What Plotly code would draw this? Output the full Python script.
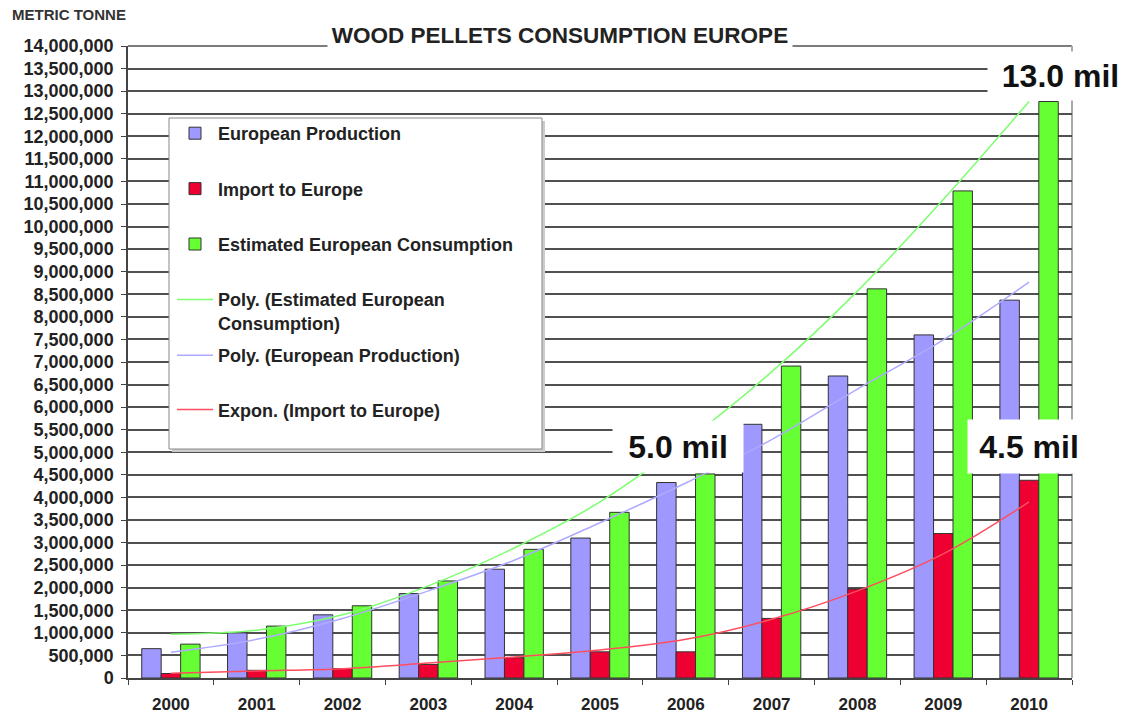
import plotly.graph_objects as go

years = ["2000", "2001", "2002", "2003", "2004", "2005", "2006", "2007", "2008", "2009", "2010"]
production = [650000, 1000000, 1400000, 1870000, 2410000, 3100000, 4330000, 5620000, 6690000, 7600000, 8370000]
imports = [100000, 170000, 210000, 300000, 450000, 580000, 580000, 1320000, 1970000, 3200000, 4380000]
consumption = [750000, 1150000, 1600000, 2150000, 2850000, 3670000, 4520000, 6910000, 8620000, 10790000, 12770000]
trend_consumption = [968000, 1060000, 1400000, 2040000, 2880000, 3900000, 5240000, 6780000, 8570000, 10600000, 12770000]
trend_production = [569000, 857000, 1320000, 1930000, 2610000, 3440000, 4320000, 5280000, 6400000, 7490000, 8770000]
trend_import = [104000, 155000, 207000, 330000, 465000, 620000, 857000, 1300000, 1930000, 2750000, 3900000]

FONT = "Liberation Sans, Arial, sans-serif"
W, H = 1132, 717
L, R, T, B = 128, 60, 46, 39
PW, PH = W - L - R, H - T - B
GRID = "#505050"


def px(x):
    return (x - L) / PW


def py(y):
    return (H - B - y) / PH


fig = go.Figure()
bar_line = dict(color="#333333", width=1)
fig.add_trace(go.Bar(x=years, y=production, name="European Production",
                     marker=dict(color="#9F99FF", line=bar_line),
                     legend="legend", legendgroup="a"))
fig.add_trace(go.Bar(x=years, y=imports, name="Import to Europe",
                     marker=dict(color="#EE0033", line=bar_line),
                     legend="legend", legendgroup="b"))
fig.add_trace(go.Bar(x=years, y=consumption, name="Estimated European Consumption",
                     marker=dict(color="#66FF33", line=bar_line),
                     legend="legend", legendgroup="c"))
fig.add_trace(go.Scatter(x=years, y=trend_consumption, mode="lines",
                         name="Poly. (Estimated European<br>Consumption)",
                         line=dict(color="#7CFF6E", width=1.5, shape="spline"),
                         legend="legend", legendgroup="d"))
fig.add_trace(go.Scatter(x=years, y=trend_production, mode="lines",
                         name="Poly. (European Production)",
                         line=dict(color="#AEAAFF", width=1.5, shape="spline"),
                         legend="legend2", legendgroup="e"))
fig.add_trace(go.Scatter(x=years, y=trend_import, mode="lines",
                         name="Expon. (Import to Europe)",
                         line=dict(color="#FF4D5E", width=1.5, shape="spline"),
                         legend="legend2", legendgroup="f"))

leg_font = dict(family=FONT, size=18, weight="bold", color="#222222")

shapes = [
    dict(type="line", xref="paper", yref="paper", x0=0, x1=1, y0=1, y1=1,
         line=dict(color=GRID, width=1.5), layer="below"),
    dict(type="line", xref="paper", yref="paper", x0=1, x1=1, y0=0, y1=1,
         line=dict(color="#AAAAAA", width=2), layer="below"),
    dict(type="rect", xref="paper", yref="paper",
         x0=px(172), x1=px(545), y0=py(452), y1=py(121),
         fillcolor="#CCCCCC", line=dict(width=0), layer="above"),
    dict(type="rect", xref="paper", yref="paper",
         x0=px(169), x1=px(542), y0=py(449), y1=py(118),
         fillcolor="white", line=dict(color="#888888", width=1), layer="above"),
]

annotations = [
    dict(text="<b>METRIC TONNE</b>", xref="paper", yref="paper", x=px(10), y=py(15),
         xanchor="left", yanchor="middle", showarrow=False,
         font=dict(family=FONT, size=15, color="#333333")),
    dict(text="<b>WOOD PELLETS CONSUMPTION EUROPE</b>", xref="paper", yref="paper",
         x=px(559.5), y=py(35), xanchor="center", yanchor="middle", showarrow=False,
         bgcolor="white", borderpad=0, width=464, height=28,
         font=dict(family=FONT, size=22.5, color="#222222")),
    dict(text="<b>13.0 mil</b>", xref="paper", yref="paper",
         x=px(1060), y=py(76), xanchor="center", yanchor="middle", showarrow=False,
         bgcolor="white", borderpad=0, width=145, height=48,
         font=dict(family=FONT, size=32, color="#111111")),
    dict(text="<b>5.0 mil</b>", xref="paper", yref="paper",
         x=px(678), y=py(446.5), xanchor="center", yanchor="middle", showarrow=False,
         bgcolor="white", borderpad=0, width=130, height=51,
         font=dict(family=FONT, size=32, color="#111111")),
    dict(text="<b>4.5 mil</b>", xref="paper", yref="paper",
         x=px(1029), y=py(446.5), xanchor="center", yanchor="middle", showarrow=False,
         bgcolor="white", borderpad=0, width=122, height=53,
         font=dict(family=FONT, size=32, color="#111111")),
]

fig.update_layout(
    width=W, height=H,
    margin=dict(l=L, r=R, t=T, b=B, pad=0, autoexpand=False),
    paper_bgcolor="white", plot_bgcolor="white",
    barmode="group", bargap=0.32, bargroupgap=0,
    font=dict(family=FONT, color="#222222"),
    showlegend=True,
    legend=dict(x=px(172), y=py(115), xanchor="left", yanchor="top",
                bgcolor="rgba(0,0,0,0)", borderwidth=0, font=leg_font,
                tracegroupgap=29, traceorder="grouped", valign="top",
                itemwidth=36),
    legend2=dict(x=px(172), y=py(337), xanchor="left", yanchor="top",
                 bgcolor="rgba(0,0,0,0)", borderwidth=0, font=leg_font,
                 tracegroupgap=28, traceorder="grouped", valign="top",
                 itemwidth=36),
    xaxis=dict(type="category", showgrid=False, showline=True, linecolor="#444444",
               linewidth=1.5, ticks="outside", tickson="boundaries", ticklen=5,
               tickcolor="#444444", ticklabelstandoff=10, automargin=False,
               tickfont=dict(family=FONT, size=17, weight="bold", color="#222222")),
    yaxis=dict(range=[0, 14000000], tick0=0, dtick=500000, tickformat=",",
               showgrid=True, gridcolor=GRID, gridwidth=1.5, zeroline=False,
               showline=True, linecolor="#444444", linewidth=1.5, automargin=False,
               ticks="outside", ticklen=5, tickcolor="#444444", ticklabelstandoff=4,
               tickfont=dict(family=FONT, size=18, weight="bold", color="#222222")),
    shapes=shapes,
    annotations=annotations,
)

fig.write_html("out.html", config={"displayModeBar": False},
               post_script="document.body.style.margin='0';")
